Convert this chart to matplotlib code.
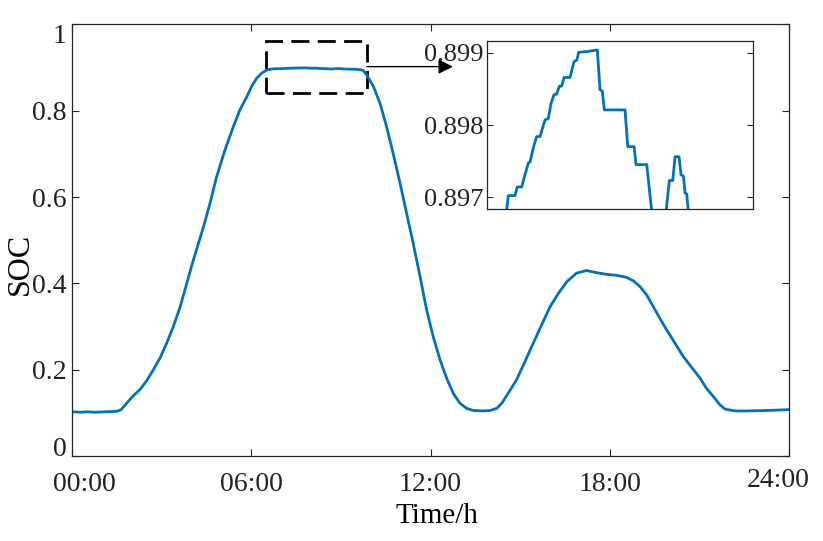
import numpy as np
import matplotlib
matplotlib.use('Agg')
import matplotlib.pyplot as plt
from matplotlib.patches import Rectangle
from matplotlib.transforms import ScaledTranslation

plt.rcParams['font.family'] = ['Liberation Serif', 'DejaVu Serif']

# SOC profile over the day (hours, SOC)
profile_h = [0.0, 0.3, 0.5, 0.8, 1.1, 1.5, 1.65, 1.83, 2.05, 2.28, 2.5, 2.72,
             2.95, 3.17, 3.39, 3.62, 3.84, 4.06, 4.40, 4.62, 4.84, 5.12, 5.40,
             5.62, 5.85, 6.01, 6.18, 6.35, 6.52, 6.62,
             9.3, 9.5, 9.64, 9.75, 9.86, 10.09, 10.31, 10.53, 10.75, 10.98,
             11.2, 11.42, 11.65, 11.87, 12.09, 12.32, 12.54, 12.76, 12.98,
             13.21, 13.43, 13.77, 14.0, 14.22, 14.4, 14.6, 14.88, 15.16,
             15.44, 15.72, 16.0, 16.28, 16.56, 16.89, 17.22, 17.56, 17.9,
             18.23, 18.57, 18.79, 19.01, 19.24, 19.46, 19.68, 19.91, 20.18,
             20.46, 20.74, 21.02, 21.24, 21.47, 21.69, 21.86, 22.2, 22.58,
             23.25, 24.0]
profile_soc = [0.103, 0.102, 0.103, 0.102, 0.103, 0.104, 0.108, 0.123, 0.140,
               0.155, 0.175, 0.200, 0.228, 0.262, 0.300, 0.346, 0.400, 0.454,
               0.531, 0.586, 0.647, 0.709, 0.763, 0.802, 0.832, 0.856, 0.875,
               0.887, 0.894, 0.8958,
               0.8962, 0.8958, 0.8950, 0.893, 0.883, 0.856, 0.817, 0.763,
               0.701, 0.632, 0.562, 0.493, 0.416, 0.339, 0.277, 0.223, 0.181,
               0.146, 0.123, 0.111, 0.106, 0.105, 0.106, 0.111, 0.124, 0.146,
               0.177, 0.219, 0.262, 0.304, 0.346, 0.377, 0.404, 0.424, 0.430,
               0.425, 0.421, 0.419, 0.414, 0.406, 0.393, 0.373, 0.346, 0.319,
               0.292, 0.262, 0.231, 0.206, 0.181, 0.157, 0.138, 0.119, 0.109,
               0.105, 0.105, 0.106, 0.108]

# fine detail of the plateau shown in the zoomed inset
plateau_h = [6.70, 6.764, 6.849, 6.878, 6.934, 6.963, 7.018, 7.040, 7.090,
             7.125, 7.167, 7.196, 7.230, 7.272, 7.306, 7.344, 7.378, 7.412,
             7.442, 7.471, 7.547, 7.598, 7.632, 7.658, 7.763, 7.877, 7.894,
             7.928, 7.957, 7.983, 8.245, 8.280, 8.360, 8.385, 8.521, 8.584,
             8.67, 8.766, 8.808, 8.851, 8.880, 8.931, 8.956, 8.986, 9.007,
             9.029, 9.049, 9.15]
plateau_soc = [0.89640, 0.89702, 0.89702, 0.89714, 0.89714, 0.89726, 0.89747,
               0.89749, 0.89772, 0.89784, 0.89784, 0.89795, 0.89807, 0.89809,
               0.89830, 0.89842, 0.89843, 0.89854, 0.89854, 0.89866, 0.89866,
               0.89888, 0.89890, 0.89901, 0.89902, 0.89904, 0.89904, 0.89849,
               0.89847, 0.89821, 0.89821, 0.89770, 0.89770, 0.89745, 0.89745,
               0.89680, 0.89640, 0.89680, 0.89723, 0.89723, 0.89756, 0.89756,
               0.89731, 0.89729, 0.89706, 0.89704, 0.89680, 0.89640]

xticks = [0, 6, 12, 18, 24]
xticklabels = ['00:00', '06:00', '12:00', '18:00', '24:00']
yticks = [0, 0.2, 0.4, 0.6, 0.8, 1.0]
yticklabels = ['0', '0.2', '0.4', '0.6', '0.8', '1']
inset_yticks = [0.897, 0.898, 0.899]
inset_yticklabels = ['0.897', '0.898', '0.899']

hours = np.concatenate([profile_h, plateau_h])
soc = np.concatenate([profile_soc, plateau_soc])
order = np.argsort(hours)
hours, soc = hours[order], soc[order]

line_color = '#0072BD'
spine_color = '#262626'

fig = plt.figure(figsize=(8.23, 5.41), dpi=100)
ax = fig.add_axes([0.0875, 0.1566, 0.8712, 0.7985])
ax.plot(hours, soc, color=line_color, lw=2.0)
ax.set_xlim(0, 24)
ax.set_ylim(0, 1)
ax.set_xticks(xticks, xticklabels)
ax.set_yticks(yticks, yticklabels)
ax.tick_params(direction='in', length=5, width=0.8, colors=spine_color,
               top=True, right=True, labelsize=20, labelcolor='#222222')
ax.tick_params(axis='x', pad=11)
ax.tick_params(axis='y', pad=4)
for s in ax.spines.values():
    s.set_color(spine_color)
    s.set_linewidth(0.9)

ax.set_xlabel('Time/h', fontsize=21)
ax.xaxis.set_label_coords(0.509, -0.108)
ax.set_ylabel('SOC', fontsize=23)
ax.yaxis.set_label_coords(-0.052, 0.445)

# edge tick labels pulled inward, as in the original
xl = ax.get_xticklabels()
yl = ax.get_yticklabels()
xl[0].set_transform(xl[0].get_transform() + ScaledTranslation(12 / 100, 0, fig.dpi_scale_trans))
xl[-1].set_transform(xl[-1].get_transform() + ScaledTranslation(-11 / 100, 4 / 100, fig.dpi_scale_trans))
yl[0].set_transform(yl[0].get_transform() + ScaledTranslation(0, 10 / 100, fig.dpi_scale_trans))
yl[-1].set_transform(yl[-1].get_transform() + ScaledTranslation(0, -9 / 100, fig.dpi_scale_trans))

# zoom box and arrow
inset_xlim = (6.49, 9.87)
inset_ylim = (0.89683, 0.89917)
box_y = (0.841, 0.961)
ax.add_patch(Rectangle((inset_xlim[0], box_y[0]), inset_xlim[1] - inset_xlim[0],
                       box_y[1] - box_y[0], fill=False, edgecolor='black',
                       lw=2.0, linestyle=(0, (6.5, 3))))
ax.annotate('', xy=(12.75, 0.902), xytext=(inset_xlim[1], 0.902),
            arrowprops=dict(arrowstyle='-|>', color='black', lw=1.0,
                            mutation_scale=22, shrinkA=0, shrinkB=0))

# inset
axin = fig.add_axes([0.5914, 0.6131, 0.3236, 0.3116])
axin.plot(hours, soc, color=line_color, lw=2.0)
axin.set_xlim(*inset_xlim)
axin.set_ylim(*inset_ylim)
axin.set_xticks([])
axin.set_yticks(inset_yticks, inset_yticklabels)
axin.tick_params(direction='in', length=4, width=0.8, colors=spine_color,
                 right=True, labelsize=19, labelcolor='#222222', pad=2)
for s in axin.spines.values():
    s.set_color(spine_color)
    s.set_linewidth(0.9)

fig.savefig('out.png', dpi=100)
